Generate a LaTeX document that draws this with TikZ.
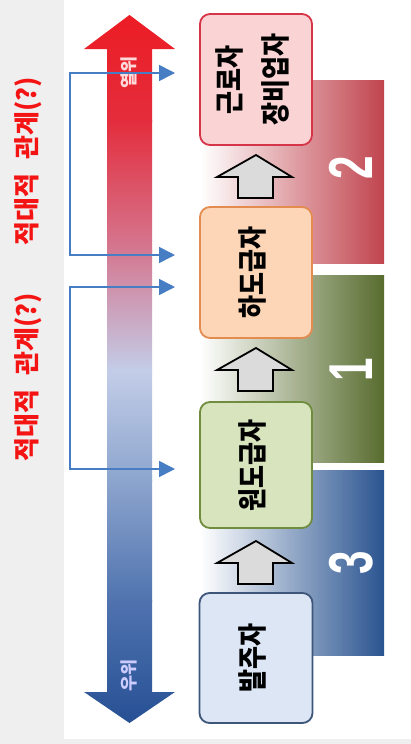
\documentclass[tikz,border=0pt]{standalone}
\usepackage{fontspec}
\setmainfont{Liberation Sans}
\newfontfamily\kr{Noto Sans CJK KR}
\usetikzlibrary{arrows.meta}
\definecolor{bggrey}{RGB}{239,239,239}
\definecolor{ac0}{RGB}{236,28,36}
\definecolor{ac1}{RGB}{228,45,60}
\definecolor{ac2}{RGB}{212,120,145}
\definecolor{ac3}{RGB}{195,205,232}
\definecolor{ac4}{RGB}{140,165,205}
\definecolor{ac5}{RGB}{80,115,175}
\definecolor{ac6}{RGB}{38,80,148}
\definecolor{barred}{RGB}{192,68,78}
\definecolor{bargreen}{RGB}{88,108,46}
\definecolor{barblue}{RGB}{42,84,144}
\definecolor{linkblue}{RGB}{70,125,195}
\definecolor{labred}{RGB}{245,20,20}
\newcommand{\boxtext}[1]{\scalebox{1}[1.18]{\begin{tabular}{@{}c@{}}#1\end{tabular}}}
\tikzset{
  box/.style={draw, line width=1.8pt, rounded corners=10pt, rotate=90, inner sep=0pt,
    font=\kr\bfseries\fontsize{25}{28}\selectfont, align=center},
  hollow/.style={draw=black, line width=1.8pt, fill=black!14, line join=miter},
  link/.style={draw=linkblue, line width=1.6pt, {Triangle[length=16pt,width=16pt]}-{Triangle[length=16pt,width=16pt]}},
  hostile/.style={rotate=90, text=labred, font=\kr\bfseries\fontsize{26}{30}\selectfont},
  arrlab/.style={rotate=90, font=\kr\bfseries\fontsize{17.5}{18}\selectfont},
  barnum/.style={rotate=90, text=white, font=\bfseries\fontsize{62}{62}\selectfont}
}
\begin{document}
\begin{tikzpicture}[x=1pt,y=-1pt]
\useasboundingbox (0,0) rectangle (411,744);
\fill[bggrey] (0,0) rectangle (411,744);
\fill[white] (64,0) rectangle (411,739);

% coloured bars
\shade[left color=white, middle color=barred!45, right color=barred] (200,80) rectangle (384,263);
\shade[left color=white, middle color=bargreen!40, right color=bargreen] (200,275) rectangle (384,462);
\shade[left color=white, middle color=barblue!40, right color=barblue] (200,470) rectangle (384,655);
\node[barnum] (n2) at (351,168) {\scalebox{0.68}[1]{2}};
\node[barnum] (n1) at (351,370) {\scalebox{0.68}[1]{1}};
\node[barnum] (n3) at (351,563) {\scalebox{0.68}[1]{3}};

% big double arrow
\begin{scope}
\clip (129.5,15) -- (175,49) -- (152,49) -- (152,692) -- (175,692) -- (129.5,723)
  -- (84,692) -- (107,692) -- (107,49) -- (84,49) -- cycle;
\shade[top color=ac0, bottom color=ac1] (80,14) rectangle (180,121);
\shade[top color=ac1, bottom color=ac2] (80,120) rectangle (180,251);
\shade[top color=ac2, bottom color=ac3] (80,250) rectangle (180,371);
\shade[top color=ac3, bottom color=ac4] (80,370) rectangle (180,481);
\shade[top color=ac4, bottom color=ac5] (80,480) rectangle (180,601);
\shade[top color=ac5, bottom color=ac6] (80,600) rectangle (180,724);
\end{scope}
\node[arrlab, text=white!85!red] (inf) at (129,72) {열위};
\node[arrlab, text=white!80!blue] (sup) at (129,675) {우위};

% boxes
\node[box, fill={rgb,255:red,250;green,212;blue,212}, draw={rgb,255:red,214;green,52;blue,72},
  minimum width=131pt, minimum height=112pt] (worker) at (256,79.5) {\boxtext{근로자\\[10pt]장비업자}};
\node[box, fill={rgb,255:red,252;green,214;blue,182}, draw={rgb,255:red,228;green,140;blue,80},
  minimum width=131pt, minimum height=112pt] (sub) at (256,272.5) {\boxtext{하도급자}};
\node[box, fill={rgb,255:red,215;green,228;blue,190}, draw={rgb,255:red,112;green,140;blue,62},
  minimum width=126pt, minimum height=112pt] (prime) at (256,465) {\boxtext{원도급자}};
\node[box, fill={rgb,255:red,220;green,230;blue,245}, draw={rgb,255:red,62;green,86;blue,122},
  minimum width=130pt, minimum height=113pt] (owner) at (256,658) {\boxtext{발주자}};

% hollow arrows between boxes
\foreach \t in {155,348,541}{
  \draw[hollow] (256,\t) -- (292,\t+22) -- (273,\t+22) -- (273,\t+43) -- (238,\t+43)
    -- (238,\t+22) -- (217,\t+22) -- cycle;
}

% hostile-relation brackets
\coordinate (t1) at (175,73);
\coordinate (t2) at (175,255);
\coordinate (c1) at (70,73);
\coordinate (c2) at (70,255);
\coordinate (t3) at (175,287);
\coordinate (t4) at (175,469);
\coordinate (c3) at (70,287);
\coordinate (c4) at (70,469);
\draw[link] (t1) -- (c1) -- (c2) -- (t2);
\draw[link] (t3) -- (c3) -- (c4) -- (t4);

\node[hostile] (h1) at (28,161) {적대적\hspace{14pt}관계(?)};
\node[hostile] (h2) at (28,377) {적대적\hspace{14pt}관계(?)};
\end{tikzpicture}
\end{document}
